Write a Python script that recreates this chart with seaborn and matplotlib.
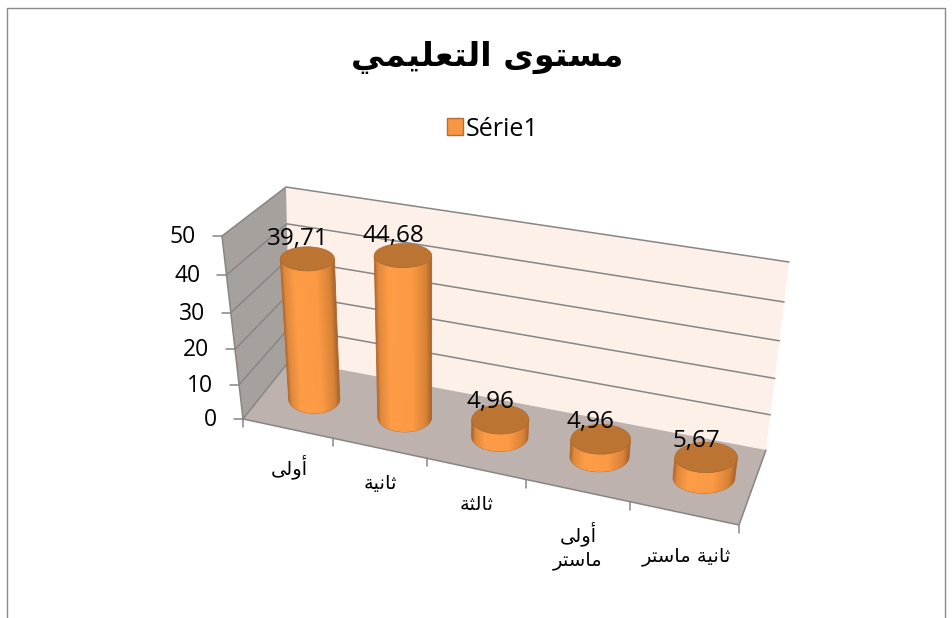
import numpy as np
import matplotlib
matplotlib.use('Agg')
import matplotlib.pyplot as plt
import seaborn as sns
from matplotlib.colors import to_rgb
from matplotlib.patches import Patch, Polygon

categories = ['أولى', 'ثانية', 'ثالثة', 'أولى\nماستر', 'ثانية ماستر']
values = [39.71, 44.68, 4.96, 4.96, 5.67]
y_ticks = [0, 10, 20, 30, 40, 50]
title = 'مستوى التعليمي'
series_name = 'Série1'

# isolated, final, initial, medial
FORMS = {
    'أ': (0xFE83, 0xFE84), 'ا': (0xFE8D, 0xFE8E), 'و': (0xFEED, 0xFEEE),
    'ى': (0xFEEF, 0xFEF0), 'ة': (0xFE93, 0xFE94), 'ر': (0xFEAD, 0xFEAE),
    'ل': (0xFEDD, 0xFEDE, 0xFEDF, 0xFEE0), 'ث': (0xFE99, 0xFE9A, 0xFE9B, 0xFE9C),
    'ن': (0xFEE5, 0xFEE6, 0xFEE7, 0xFEE8), 'ي': (0xFEF1, 0xFEF2, 0xFEF3, 0xFEF4),
    'م': (0xFEE1, 0xFEE2, 0xFEE3, 0xFEE4), 'س': (0xFEB1, 0xFEB2, 0xFEB3, 0xFEB4),
    'ت': (0xFE95, 0xFE96, 0xFE97, 0xFE98), 'ع': (0xFEC9, 0xFECA, 0xFECB, 0xFECC),
}


# matplotlib has no arabic shaping, so pick the joined glyphs and reverse
def shape_line(s):
    out = []
    for i, c in enumerate(s):
        if c not in FORMS:
            out.append(c)
            continue
        prev_joins = i > 0 and s[i - 1] in FORMS and len(FORMS[s[i - 1]]) == 4
        next_joins = i < len(s) - 1 and s[i + 1] in FORMS and len(FORMS[c]) == 4
        idx = {(0, 0): 0, (1, 0): 1, (0, 1): 2, (1, 1): 3}[(int(prev_joins), int(next_joins))]
        out.append(chr(FORMS[c][idx]))
    return ''.join(reversed(out))


def shape(s):
    return '\n'.join(shape_line(part) for part in s.split('\n'))


sns.set_theme(style='white')
plt.rcParams['font.family'] = ['Open Sans', 'DejaVu Sans']

fig = plt.figure(figsize=(9.53, 6.18), dpi=100)
ax = fig.add_axes([0, 0, 1, 1])

# seaborn gives the bar heights, the cylinders are built on them
sns.barplot(x=[shape(c) for c in categories], y=values, ax=ax, color='#F79646')
heights = [p.get_height() for p in ax.patches]
for p in ax.patches:
    p.set_visible(False)
ax.set_xlim(0, 953)
ax.set_ylim(618, 0)
ax.axis('off')

# box corners in pixels
FL0, FR0, BL0, BR0 = map(np.array, [(243, 419), (739, 525), (290, 360), (766, 450)])
FL1, FR1, BL1, BR1 = map(np.array, [(222, 236), (765, 325), (286, 187), (789, 262)])


def warp_x(t):
    return t * (0.88 + 0.12 * t)


def warp_h(h):
    f = h / 50
    return f * (0.92 + 0.08 * f)


def project(t, v, h):
    t, f = warp_x(t), warp_h(h)
    low = (1 - v) * ((1 - t) * FL0 + t * FR0) + v * ((1 - t) * BL0 + t * BR0)
    high = (1 - v) * ((1 - t) * FL1 + t * FR1) + v * ((1 - t) * BL1 + t * BR1)
    return (1 - f) * low + f * high


GRID = '#868686'
ax.add_patch(Polygon([BL0, BR0, BR1, BL1], fc='#FDF0E9', ec='none'))
ax.add_patch(Polygon([FL0, BL0, BL1, FL1], fc='#A7A19D', ec='none'))
ax.add_patch(Polygon([FL0, FR0, BR0, BL0], fc='#BDB2AE', ec='none'))

for h in y_ticks:
    a, b, c = project(0, 0, h), project(0, 1, h), project(1, 1, h)
    if h > 0:
        ax.plot([a[0], b[0], c[0]], [a[1], b[1], c[1]], color=GRID, lw=1.1)
    ax.plot([a[0] - 9, a[0]], [a[1], a[1]], color=GRID, lw=1.1)
    ax.text(a[0] - 26, a[1] + 1, str(h), ha='right', va='center', fontsize=16.5, color='black')

ax.plot([FL1[0], FL0[0]], [FL1[1], FL0[1]], color=GRID, lw=1.1)
ax.plot([FL0[0], BL0[0]], [FL0[1], BL0[1]], color=GRID, lw=1.1)
ax.plot([FL0[0], FR0[0], BR0[0]], [FL0[1], FR0[1], BR0[1]], color=GRID, lw=1.1)
for i in range(len(categories) + 1):
    q = project(i / len(categories), 0, 0)
    ax.plot([q[0], q[0]], [q[1], q[1] + 8], color=GRID, lw=1.1)

# cylinders
stops = [-1, -0.88, -0.5, 0.3, 0.8, 1]
shades = ['#B0652B', '#DE893C', '#FF9C47', '#FC9944', '#D68237', '#A5602A']
shade_rgb = np.array([to_rgb(s) for s in shades])
angles = np.linspace(np.pi, 0, 61)
R_T = 0.058


def disc_size(tc, h):
    a, b = project(tc - R_T, 0.5, h), project(tc + R_T, 0.5, h)
    c = project(tc, 0.5, h)
    return c, abs(b[0] - a[0]) / 2, 12 + (c[1] - 256) * 3 / 190


for i, h in enumerate(heights):
    tc = (i + 0.5) / len(heights) + 0.01
    c0, rx0, ry0 = disc_size(tc, 0)
    c1, rx1, ry1 = disc_size(tc, h)
    lower = np.column_stack([c0[0] + rx0 * np.cos(angles), c0[1] + ry0 * np.sin(angles)])
    upper = np.column_stack([c1[0] + rx1 * np.cos(angles), c1[1] + ry1 * np.sin(angles)])
    outline = np.vstack([lower, upper[::-1]])

    # gradient across the wall, following the lean row by row
    x0, x1 = outline[:, 0].min() - 2, outline[:, 0].max() + 2
    y0, y1 = outline[:, 1].min() - 2, outline[:, 1].max() + 2
    xs = np.linspace(x0, x1, int((x1 - x0) * 3))
    ys = np.linspace(y0, y1, int(y1 - y0) + 1)
    frac = np.clip((ys - c1[1]) / (c0[1] - c1[1]), -0.5, 1.5)
    xc = c1[0] + frac * (c0[0] - c1[0])
    rx = rx1 + frac * (rx0 - rx1)
    u = (xs[None, :] - xc[:, None]) / rx[:, None]
    img = np.dstack([np.interp(u, stops, shade_rgb[:, j]) for j in range(3)])
    body = Polygon(outline, fc='none', ec='#B56C2E', lw=0.6, zorder=3 + i)
    ax.add_patch(body)
    im = ax.imshow(img, extent=(x0, x1, y1, y0), aspect='auto', interpolation='bilinear', zorder=3 + i)
    im.set_clip_path(body)

    ring = np.linspace(0, 2 * np.pi, 90)
    top = np.column_stack([c1[0] + rx1 * np.cos(ring), c1[1] + ry1 * np.sin(ring)])
    ax.add_patch(Polygon(top, fc='#BC7433', ec='#AD6A2E', lw=0.5, zorder=3 + i))
    ax.text(c1[0] - 10, c1[1] - (32 - ry1), f'{values[i]:.2f}'.replace('.', ','), ha='center', va='center',
            fontsize=17.5, color='black', zorder=20)

# category labels
label_xy = [(289, 467), (380, 484), (477, 504), (578, 546), (686, 557)]
for name, (x, y) in zip(categories, label_xy):
    ax.text(x, y, shape(name), ha='center', va='center', fontsize=14, color='black',
            family=['DejaVu Sans'], linespacing=1.3, zorder=20)

ax.text(487, 57, shape(title), ha='center', va='center', fontsize=24, fontweight='bold',
        family=['DejaVu Sans'], color='black')

ax.legend(handles=[Patch(fc='#F79646', ec='#B66D31', lw=1, label=series_name)],
          loc='center', bbox_to_anchor=(492.5 / 953, 1 - 129 / 618), frameon=False,
          handlelength=0.65, handleheight=0.65, handletextpad=0.1, fontsize=18, borderpad=0,
          labelcolor='black')

# picture frame
ax.plot([7, 7, 945, 945], [618, 8, 8, 618], color='#8A8A8A', lw=1)

ax.set_xlim(0, 953)
ax.set_ylim(618, 0)
fig.savefig('out.png', dpi=100)
